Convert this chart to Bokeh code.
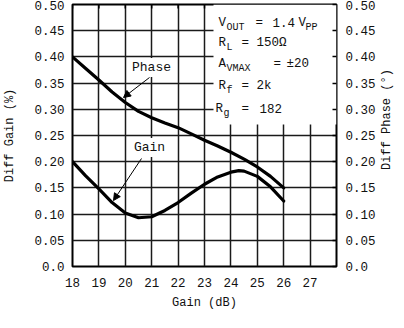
import math
from bokeh.plotting import figure
from bokeh.layouts import row
from bokeh.models import (LinearAxis, Range1d, FixedTicker, BoxAnnotation, Label,
                          Arrow, NormalHead)
from bokeh.core.properties import value
from bokeh.embed import file_html
from bokeh.resources import INLINE

# ---- data ----
phase_gain_db = [18, 18.5, 19, 19.5, 20, 20.5, 21, 21.5, 22, 22.5, 23, 23.5, 24, 24.5, 25, 25.5, 26]
diff_phase = [0.400, 0.378, 0.356, 0.333, 0.313, 0.296, 0.284, 0.274, 0.265, 0.253, 0.241, 0.230,
              0.218, 0.205, 0.190, 0.172, 0.150]

gain_gain_db = [18, 18.5, 19, 19.5, 20, 20.5, 21, 21.5, 22, 22.5, 23, 23.5, 24, 24.3, 24.5, 25, 25.5, 26]
diff_gain = [0.200, 0.173, 0.148, 0.122, 0.102, 0.093, 0.095, 0.107, 0.122, 0.140, 0.157, 0.171,
             0.180, 0.183, 0.182, 0.172, 0.152, 0.125]

x_ticks = [18, 19, 20, 21, 22, 23, 24, 25, 26, 27]
y_ticks = [0.0, 0.05, 0.1, 0.15, 0.2, 0.25, 0.3, 0.35, 0.4, 0.45, 0.5]
y_tick_labels = ["0.0", "0.05", "0.10", "0.15", "0.20", "0.25", "0.30", "0.35", "0.40", "0.45", "0.50"]
right_title = "Diff Phase (°)"

FONT = "Liberation Mono"
INK = "#111111"

p = figure(frame_width=264, frame_height=262, x_range=Range1d(18, 28), y_range=Range1d(0, 0.5),
           output_backend="svg", toolbar_location=None,
           min_border_left=68, min_border_right=40, min_border_top=4, min_border_bottom=46)
p.extra_y_ranges = {"phase": Range1d(0, 0.5)}

p.outline_line_color = "black"
p.outline_line_width = 2
p.outline_line_alpha = 1

overrides = {t: l for t, l in zip(y_ticks, y_tick_labels)}

xa = p.xaxis[0]
xa.ticker = FixedTicker(ticks=x_ticks)
xa.axis_label = "Gain (dB)"
ya = p.yaxis[0]
ya.ticker = FixedTicker(ticks=y_ticks)
ya.major_label_overrides = overrides
ya.axis_label = "Diff Gain (%)"

ra = LinearAxis(y_range_name="phase", ticker=FixedTicker(ticks=y_ticks),
                major_label_overrides=overrides)
p.add_layout(ra, "right")

for ax in (xa, ya, ra):
    ax.axis_line_color = None
    ax.major_tick_out = 0
    ax.major_tick_in = 0
    ax.minor_tick_line_color = None
    ax.major_label_text_font = FONT
    ax.major_label_text_font_size = "12.5px"
    ax.major_label_text_color = INK
    ax.axis_label_text_font = FONT
    ax.axis_label_text_font_size = "12px"
    ax.axis_label_text_font_style = "normal"
    ax.axis_label_text_color = INK

xa.major_label_standoff = 11
xa.axis_label_standoff = 6
ya.major_label_standoff = 8
ya.axis_label_standoff = 14
ra.major_label_standoff = 9
ra.major_tick_in = 4
ra.major_tick_line_color = "black"
ra.major_tick_line_width = 1.5

for g in (p.xgrid[0], p.ygrid[0]):
    g.grid_line_color = "#1a1a1a"
    g.grid_line_width = 1.5
    g.grid_line_alpha = 1
p.ygrid[0].ticker = FixedTicker(ticks=y_ticks)
p.xgrid[0].ticker = FixedTicker(ticks=x_ticks)


def dx(px):
    return 18 + (px - 76) / 26.4


def dy(py):
    return (274 - py) / 524


# white box behind the conditions text
box = BoxAnnotation(left=dx(217), right=28, bottom=dy(132), top=0.5,
                    fill_color="white", fill_alpha=1, line_color=None, level="glyph")
p.add_layout(box)

# top inner ticks (visible where the white box hides the grid)
p.scatter(x=x_ticks, y=[0.5] * len(x_ticks), marker="dash", size=8, angle=math.pi / 2,
          line_color="black", line_width=1.5)

# curves
p.line(phase_gain_db, diff_phase, line_color="black", line_width=3.2,
       line_join="round", line_cap="round", y_range_name="phase")
p.line(gain_gain_db, diff_gain, line_color="black", line_width=3.2,
       line_join="round", line_cap="round")


def txt(px, py, s, size=12.5, align="left", bg=None):
    lab = Label(x=dx(px), y=dy(py), text=s, text_font=FONT, text_font_size=f"{size}px",
                text_color=INK, text_align=align, text_baseline="middle")
    if bg:
        lab.background_fill_color = bg
        lab.background_fill_alpha = 1
        lab.padding = 2
    p.add_layout(lab)


# condition text with subscripts
txt(222, 30, "V"); txt(230, 35, "OUT", 10); txt(259, 30, "="); txt(276, 30, "1.4"); txt(302, 30, "V"); txt(309, 35, "PP", 10)
txt(222, 50, "R"); txt(230, 55, "L", 10); txt(245, 50, "="); txt(260, 50, "150Ω")
txt(222, 71, "A"); txt(230, 76, "VMAX", 10); txt(277, 71, "="); txt(290, 71, "±20")
txt(222, 93, "R"); txt(230, 98, "f", 10); txt(245, 93, "="); txt(260, 93, "2k")
txt(219, 116, "R"); txt(227, 121, "g", 10); txt(245, 116, "="); txt(263, 116, "182")

# curve labels and arrows
txt(155, 75, "Phase", size=13, align="center", bg="white")
txt(153, 155, "Gain", size=13, align="center", bg="white")
p.add_layout(Arrow(end=NormalHead(size=7, fill_color="black", line_color="black"),
                   x_start=dx(153), y_start=dy(85), x_end=dx(127), y_end=dy(105),
                   line_color="black", line_width=1))
p.add_layout(Arrow(end=NormalHead(size=7, fill_color="black", line_color="black"),
                   x_start=dx(145), y_start=dy(166), x_end=dx(117), y_end=dy(208),
                   line_color="black", line_width=1))

# narrow strip holding the right-hand axis title, reading bottom-to-top
p2 = figure(width=16, height=312, x_range=Range1d(0, 1), y_range=Range1d(0, 312),
            x_axis_type=None, y_axis_type=None, output_backend="svg", toolbar_location=None,
            min_border=0)
p2.outline_line_color = None
p2.grid.visible = False
p2.text(x=[0.5], y=[312 - 137], text=[right_title], angle=math.pi / 2,
        text_align="center", text_baseline="middle", text_font=value(FONT),
        text_font_size="12px", text_color=INK)

layout = row(p, p2, spacing=0)
open("out.html", "w").write(file_html(layout, INLINE))
